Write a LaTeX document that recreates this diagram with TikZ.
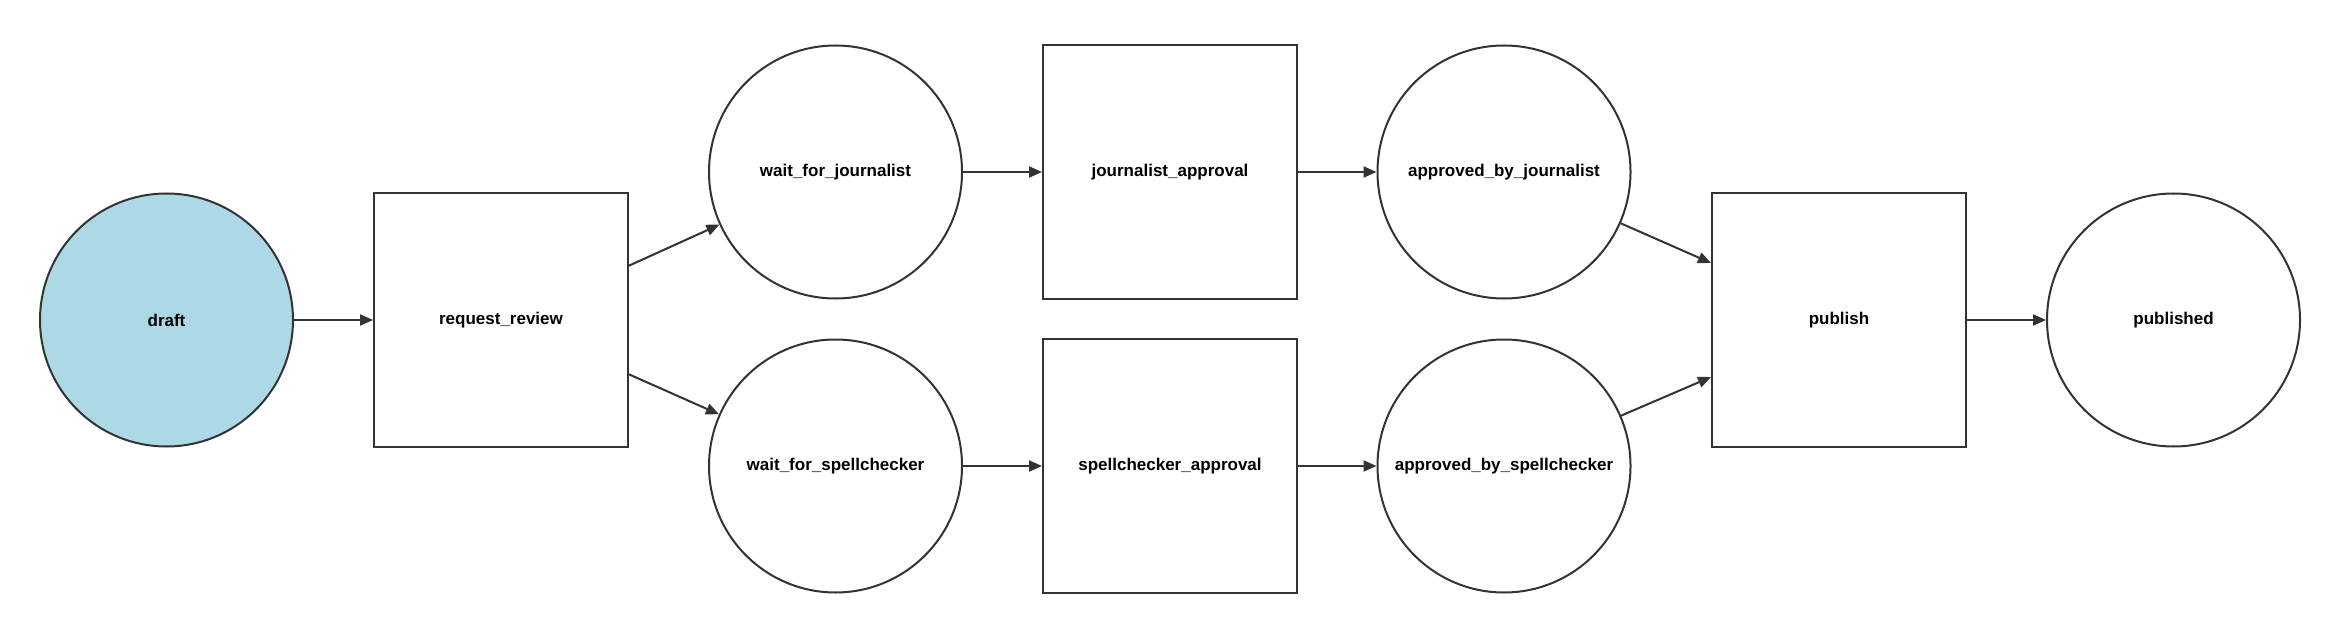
\documentclass[tikz,border=0pt]{standalone}
\usepackage{fontspec}
\setmainfont{Liberation Sans}
\usetikzlibrary{arrows.meta}
\definecolor{edgegray}{HTML}{333333}
\definecolor{draftblue}{HTML}{ADD8E6}
\tikzset{
  state/.style={circle, draw=edgegray, line width=2pt, minimum size=253pt, inner sep=0pt, fill=white,
    font=\bfseries\fontsize{17}{20}\selectfont},
  trans/.style={rectangle, draw=edgegray, line width=2pt, minimum width=254pt, minimum height=254pt, inner sep=0pt, fill=white,
    font=\bfseries\fontsize{17}{20}\selectfont},
  conn/.style={draw=edgegray, line width=2pt, -{Triangle[length=13pt,width=11pt]}}
}
\begin{document}
\begin{tikzpicture}[x=1pt,y=-1pt]
\useasboundingbox (0,0) rectangle (2336,628);
\node[state, fill=draftblue] (draft) at (166.5,320) {draft};
\node[trans] (rr) at (501,320) {request\_review};
\node[state] (wj) at (835.5,172) {wait\_for\_journalist};
\node[trans] (ja) at (1170,172) {journalist\_approval};
\node[state] (abj) at (1504,172) {approved\_by\_journalist};
\node[state] (ws) at (835.5,466) {wait\_for\_spellchecker};
\node[trans] (sa) at (1170,466) {spellchecker\_approval};
\node[state] (abs) at (1504,466) {approved\_by\_spellchecker};
\node[trans] (pub) at (1839,320) {publish};
\node[state] (pubd) at (2173.5,320) {published};
\draw[conn] (draft) -- (rr);
\draw[conn] (rr.23.4) -- (wj);
\draw[conn] (rr.-23.4) -- (ws);
\draw[conn] (wj) -- (ja);
\draw[conn] (ja) -- (abj);
\draw[conn] (ws) -- (sa);
\draw[conn] (sa) -- (abs);
\draw[conn] (abj) -- (pub.156.6);
\draw[conn] (abs) -- (pub.-156.6);
\draw[conn] (pub) -- (pubd);
\end{tikzpicture}
\end{document}
